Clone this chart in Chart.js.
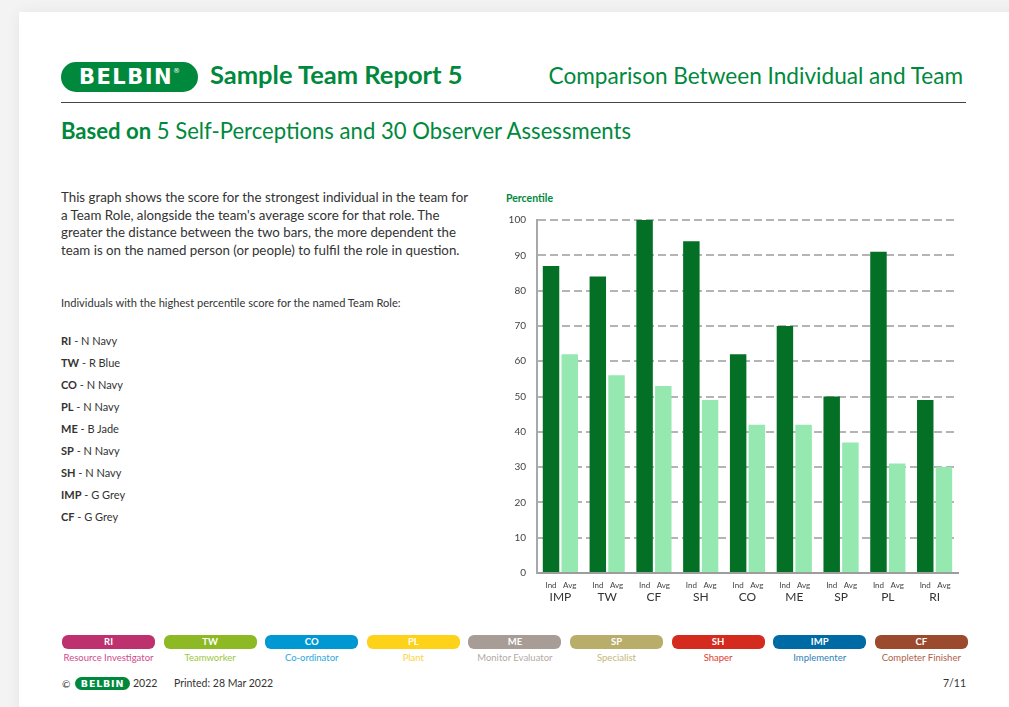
<!DOCTYPE html>
<html>
<head>
<meta charset="utf-8">
<script src="https://cdn.jsdelivr.net/npm/chart.js@4/dist/chart.umd.min.js"></script>
<style>
  html, body { margin: 0; padding: 0; }
  body {
    width: 1009px; height: 707px; overflow: hidden;
    background: #f3f3f3;
    font-family: "Lato", "Open Sans", sans-serif;
    color: #333;
    position: relative;
  }
  .page {
    position: absolute; left: 19px; top: 12px; width: 1010px; height: 720px;
    background: #fff;
    box-shadow: 0 0 14px rgba(0,0,0,0.06);
  }
  .abs { position: absolute; white-space: nowrap; }
  .green { color: #00893d; }
  .logo {
    position: absolute; left: 61px; top: 62px; width: 137px; height: 30px;
    background: #00893d; border-radius: 15px;
    color: #fff; font-family: "DejaVu Sans", sans-serif; font-weight: 700; font-size: 21px; letter-spacing: 1.5px;
    line-height: 30px; text-align: center;
  }
  .logo sup { font-size: 7px; font-weight: 400; vertical-align: top; position: relative; top: -6px; letter-spacing: 0; }
  .rule { position: absolute; left: 61px; top: 102px; width: 905px; height: 1px; background: #444; }
  .para { position: absolute; left: 61px; top: 189px; font-size: 13.3px; line-height: 17.5px; color: #333; white-space: nowrap; }
  .small { font-size: 11.1px; color: #333; }
  .list div { position: absolute; left: 61px; font-size: 11px; color: #333; }
  .pill {
    position: absolute; top: 635px; width: 93px; height: 14px; border-radius: 6px;
    color: #fff; font-weight: 700; font-size: 9.5px; line-height: 14px; text-align: center;
  }
  .pillname { position: absolute; top: 652px; width: 93px; font-size: 9.5px; text-align: center; }
  #chartBox { position: absolute; left: 500px; top: 203px; width: 470px; height: 407px; }
</style>
</head>
<body>
<div class="page"></div>

<div class="logo">BELBIN<sup>®</sup></div>
<div class="abs green" style="left:210px; top:59px; font-size:25.5px; font-weight:700;">Sample Team Report 5</div>
<div class="abs green" style="right:46px; top:62px; font-size:22.6px;">Comparison Between Individual and Team</div>
<div class="rule"></div>
<div class="abs green" style="left:61px; top:117px; font-size:22.1px;"><b>Based on</b> 5 Self-Perceptions and 30 Observer Assessments</div>

<div class="para">This graph shows the score for the strongest individual in the team for<br>a Team Role, alongside the team's average score for that role. The<br>greater the distance between the two bars, the more dependent the<br>team is on the named person (or people) to fulfil the role in question.</div>
<div class="abs small" style="left:61px; top:296px;">Individuals with the highest percentile score for the named Team Role:</div>

<div class="list" id="list"></div>

<div class="abs green" style="left:506px; top:192px; font-size:10.5px; font-weight:700;">Percentile</div>
<div id="chartBox"><canvas id="chart"></canvas></div>

<div id="roles"></div>

<div class="abs" style="left:62px; top:678px; font-size:10px; color:#333;">©</div>
<div class="abs" style="left:75px; top:677px; width:55px; height:13px; border-radius:7px; background:#00893d; color:#fff; font-family:'DejaVu Sans', sans-serif; font-weight:700; font-size:9.5px; line-height:13px; text-align:center; letter-spacing:0.8px;">BELBIN</div>
<div class="abs" style="left:133px; top:677px; font-size:10.5px; color:#333;">2022</div>
<div class="abs" style="left:174px; top:677px; font-size:10.5px; color:#333;">Printed: 28 Mar 2022</div>
<div class="abs" style="right:43px; top:677px; font-size:10.5px; color:#333;">7/11</div>

<script>
// chart data
const categories = ["IMP", "TW", "CF", "SH", "CO", "ME", "SP", "PL", "RI"];
const individualScores = [87, 84, 100, 94, 62, 70, 50, 91, 49];
const teamAverages = [62, 56, 53, 49, 42, 42, 37, 31, 30];
const barLabels = ["Ind", "Avg"];
const yTicks = [0, 10, 20, 30, 40, 50, 60, 70, 80, 90, 100];

// side list and role key
const topPeople = [["RI", "N Navy"], ["TW", "R Blue"], ["CO", "N Navy"], ["PL", "N Navy"], ["ME", "B Jade"],
  ["SP", "N Navy"], ["SH", "N Navy"], ["IMP", "G Grey"], ["CF", "G Grey"]];
const roleCodes = ["RI", "TW", "CO", "PL", "ME", "SP", "SH", "IMP", "CF"];
const roleNames = ["Resource Investigator", "Teamworker", "Co-ordinator", "Plant", "Monitor Evaluator",
  "Specialist", "Shaper", "Implementer", "Completer Finisher"];
const roleColors = ["#bd316f", "#8dba24", "#0098d3", "#fdd219", "#a89c97", "#b9ae69", "#d52b1e", "#006aa5", "#9b4a2d"];
const roleTextColors = ["#d04a8c", "#9cc83e", "#2ba8dc", "#fbd43a", "#b4aaa6", "#c2b77b", "#e03a30", "#2d7fb6", "#b0604a"];

const listEl = document.getElementById("list");
topPeople.forEach(([code, name], i) => {
  const d = document.createElement("div");
  d.style.top = (334 + i * 22) + "px";
  d.innerHTML = `<b>${code}</b> - ${name}`;
  listEl.appendChild(d);
});

const rolesEl = document.getElementById("roles");
roleCodes.forEach((code, i) => {
  const left = 62 + i * 101.6;
  const p = document.createElement("div");
  p.className = "pill";
  p.style.left = left + "px";
  p.style.background = roleColors[i];
  p.textContent = code;
  rolesEl.appendChild(p);
  const n = document.createElement("div");
  n.className = "pillname";
  n.style.left = left + "px";
  n.style.color = roleTextColors[i];
  n.textContent = roleNames[i];
  rolesEl.appendChild(n);
});

// small "Ind" / "Avg" labels under each bar
const barLabelPlugin = {
  id: "barLabels",
  afterDraw(chart) {
    const { ctx, chartArea } = chart;
    ctx.save();
    ctx.font = '8px "Lato", sans-serif';
    ctx.fillStyle = "#444";
    ctx.textAlign = "center";
    ctx.textBaseline = "middle";
    chart.data.datasets.forEach((ds, i) => {
      chart.getDatasetMeta(i).data.forEach((el) => {
        ctx.fillText(barLabels[i], el.x, chartArea.bottom + 12);
      });
    });
    ctx.restore();
  }
};

new Chart(document.getElementById("chart"), {
  type: "bar",
  data: {
    labels: categories,
    datasets: [
      { label: "Ind", data: individualScores, backgroundColor: "#037025", categoryPercentage: 0.8, barPercentage: 0.88 },
      { label: "Avg", data: teamAverages, backgroundColor: "#95e8b0", categoryPercentage: 0.8, barPercentage: 0.88 }
    ]
  },
  options: {
    responsive: true,
    maintainAspectRatio: false,
    animation: false,
    layout: { padding: { top: 10, right: 12, left: 0, bottom: 0 } },
    plugins: { legend: { display: false }, tooltip: { enabled: false } },
    scales: {
      x: {
        grid: { display: false, drawTicks: false },
        border: { display: true, color: "#9d9d9d", width: 2 },
        ticks: { color: "#333", font: { family: "Lato", size: 12 }, padding: 17, maxRotation: 0 },
        afterFit(scale) { scale.height = 37; }
      },
      y: {
        min: 0, max: 100,
        afterBuildTicks(scale) { scale.ticks = yTicks.map(v => ({ value: v })); },
        grid: { color: "#b4b4b4", lineWidth: 2, drawTicks: false },
        border: { display: true, color: "#a8a8a8", width: 2, dash: [8, 4] },
        ticks: { color: "#444", font: { family: "Lato", size: 10 }, padding: 11 },
        afterFit(scale) { scale.width = 37; }
      }
    }
  },
  plugins: [barLabelPlugin]
});
</script>
</body>
</html>
